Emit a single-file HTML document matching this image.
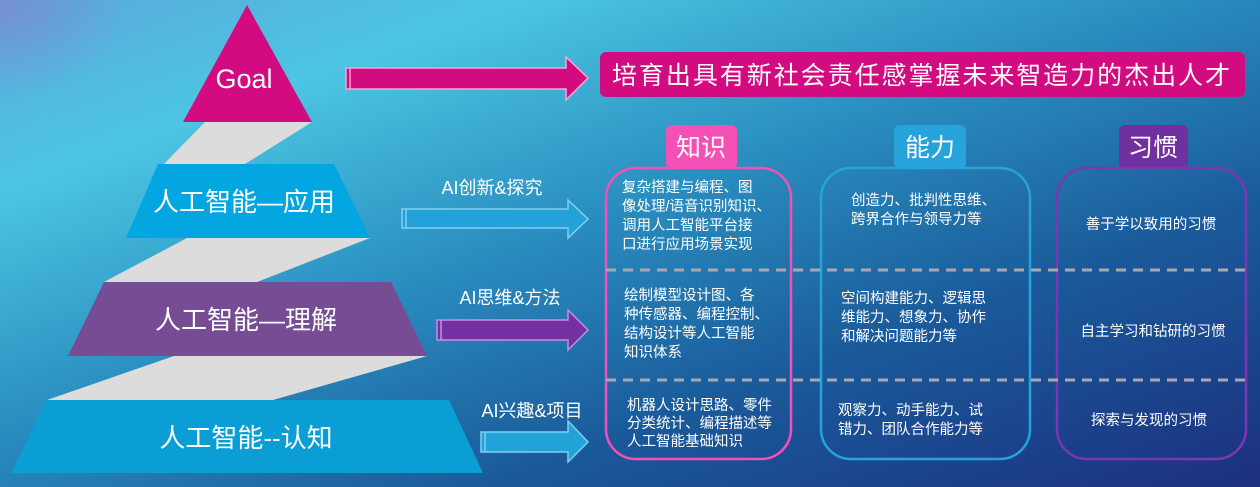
<!DOCTYPE html>
<html><head><meta charset="utf-8"><style>
html,body{margin:0;padding:0;}
body{width:1260px;height:487px;overflow:hidden;background:linear-gradient(160deg,#5aa8dc 0%,#4cc6e2 20%,#2a8fc0 45%,#1a5a9a 70%,#1c2f7e 100%);font-family:"Liberation Sans","Noto Sans CJK SC",sans-serif;}
svg{position:absolute;left:0;top:0;}
text{font-family:"Liberation Sans","Noto Sans CJK SC",sans-serif;fill:#fff;}
</style></head><body>
<svg width="1260" height="487" viewBox="0 0 1260 487">
<defs>
<radialGradient id="g1" cx="0" cy="0" r="0.5"><stop offset="0" stop-color="#8a7fd0" stop-opacity="0.6"/><stop offset="1" stop-color="#8a7fd0" stop-opacity="0"/></radialGradient>
</defs>
<rect x="0" y="0" width="260" height="200" fill="url(#g1)"/>
<polygon points="205,122 312,122 245,164 164,164" fill="#dcdcdc"/>
<polygon points="187,238 370,238 257,282 104,282" fill="#dcdcdc"/>
<polygon points="174,356 427,356 273,400 47,400" fill="#dcdcdc"/>
<polygon points="247,5 312,122 183,122" fill="#d30b80"/>
<text x="244" y="88" font-size="27" text-anchor="middle">Goal</text>
<polygon points="158,164 334,164 370,238 126,238" fill="#03a6e0"/>
<text x="244" y="211" font-size="26" text-anchor="middle">人工智能—应用</text>
<polygon points="104,282 391,282 427,356 68,356" fill="#764d94"/>
<text x="246" y="329" font-size="26" text-anchor="middle">人工智能—理解</text>
<polygon points="47,400 449,400 483,473 11,473" fill="#0b9ed5"/>
<text x="246" y="447" font-size="26" text-anchor="middle">人工智能--认知</text>
<g stroke="#f5a8d8" stroke-width="1.5">
<polygon points="346,68 566,68 566,57 588,78 566,100 566,89 346,89" fill="#d30b80"/>
</g>
<line x1="350" y1="68" x2="350" y2="89" stroke="#f5a8d8" stroke-width="1.5"/>
<g stroke="#7fd0f0" stroke-width="1.5">
<polygon points="402,209 568,209 568,200 588,219 568,238 568,228 402,228" fill="#22a2d8"/>
<line x1="406" y1="209" x2="406" y2="228"/>
<polygon points="481,432 568,432 568,421 588,442 568,462 568,452 481,452" fill="#22a2d8"/>
<line x1="485" y1="432" x2="485" y2="452"/>
</g>
<g stroke="#c490e0" stroke-width="1.5">
<polygon points="437,320 568,320 568,310 588,330 568,350 568,340 437,340" fill="#7230a0"/>
<line x1="441" y1="320" x2="441" y2="340"/>
</g>
<text x="492" y="194" font-size="18" text-anchor="middle">AI创新&amp;探究</text>
<text x="510" y="304" font-size="18" text-anchor="middle">AI思维&amp;方法</text>
<text x="532" y="417" font-size="18" text-anchor="middle">AI兴趣&amp;项目</text>
<rect x="600" y="52" width="645" height="45" rx="6" fill="#d30b80"/>
<text x="612" y="84" font-size="25" textLength="618" lengthAdjust="spacing">培育出具有新社会责任感掌握未来智造力的杰出人才</text>
<rect x="666" y="125" width="71" height="44" rx="6" fill="#f550b5"/>
<text x="701" y="156" font-size="25" text-anchor="middle">知识</text>
<rect x="894" y="125" width="72" height="44" rx="6" fill="#27a3dc"/>
<text x="930" y="156" font-size="25" text-anchor="middle">能力</text>
<rect x="1119" y="125" width="69" height="44" rx="6" fill="#7030a0"/>
<text x="1153" y="156" font-size="25" text-anchor="middle">习惯</text>
<rect x="606" y="168" width="185" height="291" rx="30" fill="none" stroke="#f550b5" stroke-width="2.5"/>
<rect x="821" y="168" width="209" height="291" rx="30" fill="none" stroke="#27a3dc" stroke-width="2.5"/>
<rect x="1057" y="168" width="189" height="291" rx="30" fill="none" stroke="#7a38b0" stroke-width="2.5"/>
<g stroke="#a8a8b0" stroke-width="3" stroke-dasharray="10,7">
<line x1="606" y1="270" x2="1246" y2="270"/>
<line x1="606" y1="380" x2="1246" y2="380"/>
</g>
<g font-size="14.5">
<text x="622" y="192">复杂搭建与编程、图</text>
<text x="622" y="211">像处理/语音识别知识、</text>
<text x="622" y="230">调用人工智能平台接</text>
<text x="622" y="249">口进行应用场景实现</text>
<text x="624" y="300">绘制模型设计图、各</text>
<text x="624" y="319">种传感器、编程控制、</text>
<text x="624" y="338">结构设计等人工智能</text>
<text x="624" y="357">知识体系</text>
<text x="627" y="410">机器人设计思路、零件</text>
<text x="627" y="428">分类统计、编程描述等</text>
<text x="627" y="446">人工智能基础知识</text>
<text x="851" y="205">创造力、批判性思维、</text>
<text x="851" y="224">跨界合作与领导力等</text>
<text x="841" y="303">空间构建能力、逻辑思</text>
<text x="841" y="322">维能力、想象力、协作</text>
<text x="841" y="341">和解决问题能力等</text>
<text x="838" y="415">观察力、动手能力、试</text>
<text x="838" y="434">错力、团队合作能力等</text>
<text x="1151" y="229" text-anchor="middle">善于学以致用的习惯</text>
<text x="1153" y="336" text-anchor="middle">自主学习和钻研的习惯</text>
<text x="1149" y="425" text-anchor="middle">探索与发现的习惯</text>
</g>
</svg>
</body></html>
